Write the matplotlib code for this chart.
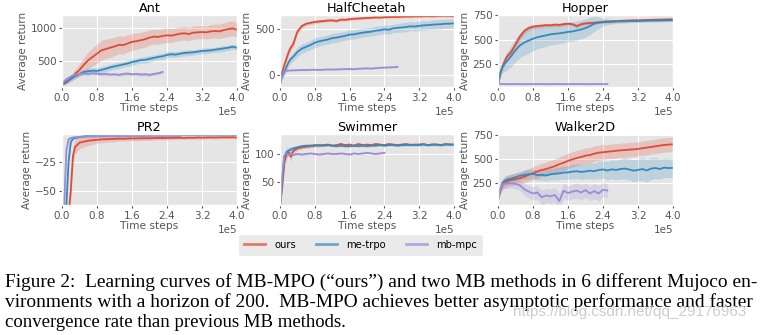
import matplotlib
matplotlib.use("Agg")
import matplotlib.pyplot as plt
import matplotlib.transforms as mtransforms
from matplotlib.lines import Line2D
import numpy as np

plt.style.use("ggplot")

# Training progress, in units of 1e4 time steps
STEPS = [0, 0.5, 1, 1.5, 2, 2.5, 3, 4, 5, 6, 7, 8, 9, 10, 11, 12, 13, 14, 15, 16,
         17, 18, 19, 20, 21, 22, 23, 24, 25, 26, 27, 28, 29, 30, 31, 32, 33, 34,
         35, 36, 37, 38, 39, 40]

METHODS = ["ours", "me-trpo", "mb-mpc"]
COLORS = ["#E24A33", "#348ABD", "#988ED5"]
ENVS = ["Ant", "HalfCheetah", "Hopper", "PR2", "Swimmer", "Walker2D"]
XTICKS = [0, 0.8, 1.6, 2.4, 3.2, 4.0]

# ---- Ant ----
ant_ours = [140, 150, 170, 200, 230, 265, 300, 360, 440, 510, 560, 610, 660, 680, 700, 720,
            745, 740, 765, 790, 800, 815, 830, 855, 870, 865, 880, 890, 885, 900, 915, 920,
            910, 930, 935, 940, 935, 950, 955, 950, 970, 985, 995, 975]
ant_ours_sd = [20, 25, 30, 40, 50, 60, 70, 90, 110, 130, 140, 150, 150, 150, 145, 140, 140,
               135, 130, 130, 125, 120, 120, 115, 115, 110, 110, 110, 105, 105, 105, 105,
               100, 100, 100, 100, 100, 105, 105, 110, 110, 115, 115, 110]
ant_trpo = [150, 165, 185, 205, 225, 245, 265, 300, 330, 340, 350, 345, 360, 380, 400, 415,
            430, 445, 460, 480, 495, 510, 515, 530, 545, 560, 570, 590, 600, 595, 610, 620,
            625, 630, 640, 650, 655, 660, 670, 680, 690, 700, 715, 700]
ant_trpo_sd = [15, 20, 25, 30, 30, 35, 35, 40, 40, 45, 45, 50, 50, 45, 45, 50, 50, 45, 45,
               50, 45, 45, 50, 50, 45, 45, 50, 50, 45, 45, 40, 45, 45, 40, 40, 45, 45, 40,
               40, 45, 45, 40, 40, 40]
ant_mpc = [160, 190, 220, 240, 260, 275, 285, 300, 305, 300, 310, 305, 295, 300, 290, 295,
           285, 300, 305, 295, 300, 290, 295, 285, 300, 310, 330]
ant_mpc_sd = [10, 12, 15, 18, 20, 20, 22, 25, 25, 28, 25, 22, 25, 28, 25, 22, 25, 28, 25,
              25, 22, 25, 28, 25, 22, 25, 25]

# ---- HalfCheetah ----
hc_ours = [-110, 30, 110, 180, 250, 300, 330, 470, 530, 555, 565, 575, 580, 585, 590, 592,
           585, 600, 598, 605, 610, 612, 615, 618, 620, 624, 622, 626, 628, 630, 628, 632,
           634, 633, 636, 635, 637, 638, 636, 639, 640, 641, 640, 638]
hc_ours_sd = [20, 30, 35, 40, 40, 35, 35, 30, 25, 20, 20, 18, 18, 15, 15, 15, 15, 15, 15,
              15, 12, 14, 12, 13, 12, 14, 12, 13, 12, 14, 12, 13, 12, 14, 12, 13, 12, 14,
              12, 13, 12, 14, 12, 13]
hc_trpo = [-90, -20, 30, 90, 140, 175, 195, 250, 285, 305, 325, 350, 365, 375, 385, 400,
           405, 415, 425, 438, 440, 450, 458, 465, 470, 480, 485, 495, 490, 505, 510, 515,
           520, 528, 525, 532, 538, 540, 545, 548, 550, 555, 556, 560]
hc_trpo_sd = [10, 25, 35, 40, 45, 45, 45, 50, 52, 48, 50, 55, 50, 48, 52, 50, 55, 50, 48,
              52, 50, 50, 48, 45, 48, 50, 45, 48, 50, 45, 48, 50, 52, 48, 50, 52, 50, 48,
              50, 52, 50, 48, 50, 50]
hc_mpc = [-70, -10, 35, 45, 48, 50, 50, 52, 55, 54, 56, 57, 55, 58, 60, 59, 61, 62, 64, 65,
          63, 68, 70, 72, 70, 74, 78, 80, 82, 85, 88]
hc_mpc_sd = [15, 15, 10, 8, 8, 8, 8, 8, 9, 8, 7, 8, 9, 8, 7, 8, 9, 8, 7, 8, 9, 8, 7, 8, 9,
             8, 7, 8, 9, 8, 8]

# ---- Hopper ----
hop_ours = [20, 150, 220, 270, 320, 345, 370, 450, 530, 590, 620, 635, 640, 645, 650, 648,
            655, 652, 660, 665, 660, 640, 660, 668, 672, 675, 680, 685, 688, 690, 692, 695,
            697, 698, 700, 700, 702, 703, 705, 706, 707, 708, 710, 710]
hop_ours_sd = [5, 30, 40, 40, 40, 40, 40, 40, 35, 30, 25, 20, 20, 20, 18, 18, 18, 18, 18,
               18, 18, 18, 18, 15, 16, 15, 14, 15, 16, 15, 14, 15, 16, 15, 14, 15, 16, 15,
               14, 15, 16, 15, 14, 15]
hop_trpo = [20, 150, 215, 250, 275, 300, 330, 390, 440, 470, 490, 510, 525, 535, 545, 555,
            560, 565, 572, 580, 585, 595, 605, 620, 640, 665, 675, 680, 682, 685, 688, 690,
            690, 692, 694, 693, 695, 696, 697, 697, 698, 699, 700, 700]
hop_trpo_sd = [5, 40, 60, 80, 90, 100, 110, 120, 130, 130, 130, 125, 120, 115, 115, 110,
               110, 105, 105, 100, 100, 100, 95, 95, 90, 80, 60, 40, 30, 25, 20, 20, 18,
               18, 16, 16, 15, 15, 15, 14, 14, 14, 13, 13]
hop_mpc = [38, 40, 41, 40, 39, 40, 41, 40, 40, 39, 41, 40, 40, 41, 39, 40, 40, 41, 40, 39,
           40, 41, 40, 40, 39, 40, 41, 40, 40]
hop_mpc_sd = [2, 3, 3, 2, 3, 3, 2, 3, 3, 2, 3, 3, 2, 3, 3, 2, 3, 3, 2, 3, 3, 2, 3, 3, 2, 3,
              3, 2, 3]

# ---- PR2 ----
pr2_ours = [-85, -82, -78, -70, -50, -20, -12, -8.5, -7.5, -6.8, -6.3, -6.0, -5.6, -5.5,
            -5.3, -5.2, -5.0, -5.1, -4.9, -4.8, -4.8, -4.7, -4.6, -4.7, -4.5, -4.4, -4.5,
            -4.4, -4.3, -4.3, -4.2, -4.3, -4.1, -4.2, -4.0, -4.1, -4.0, -3.9, -4.0, -3.9,
            -3.8, -3.9, -3.8, -4.0]
pr2_ours_sd = [2, 2, 3, 5, 8, 8, 6, 5, 4.5, 4, 3.5, 3, 3, 2.5, 2.5, 2.5, 2, 2, 2, 2, 2, 2,
               1.8, 1.8, 1.8, 1.6, 1.6, 1.6, 1.5, 1.5, 1.5, 1.5, 1.4, 1.4, 1.4, 1.4, 1.3,
               1.3, 1.3, 1.3, 1.2, 1.2, 1.2, 1.2]
pr2_trpo = [-80, -75, -62, -25, -8, -5, -4.5, -3.5, -3.0, -2.5, -2.2, -2.1, -2.0, -1.9,
            -2.0, -1.9, -1.8, -1.9, -1.8, -1.8, -1.9, -1.8, -1.7, -1.8, -1.8, -1.7, -1.8,
            -1.7, -1.7, -1.8, -1.7, -1.7, -1.6, -1.7, -1.7, -1.6, -1.7, -1.6, -1.6, -1.7,
            -1.6, -1.6, -1.7, -1.6]
pr2_trpo_sd = [1, 2, 4, 4, 2, 1.5, 1.2, 1, 1, 1, 0.9, 0.9, 0.8, 0.8, 0.8, 0.8, 0.8, 0.8,
               0.8, 0.8, 0.8, 0.8, 0.8, 0.8, 0.8, 0.8, 0.8, 0.8, 0.8, 0.8, 0.8, 0.8, 0.8,
               0.8, 0.8, 0.8, 0.8, 0.8, 0.8, 0.8, 0.8, 0.8, 0.8, 0.8]
pr2_mpc = [-75, -62, -15, -5.5, -4.5, -4.0, -3.8, -3.5, -3.3, -3.2, -3.0, -3.1, -2.9, -3.0,
           -2.8, -2.9, -3.0, -2.8, -2.9, -2.7, -2.8, -2.9, -2.7, -2.8, -2.6, -2.7, -2.8,
           -2.6, -2.7, -2.8, -2.7]
pr2_mpc_sd = [1, 3, 4, 1.5, 1, 1, 1, 1, 1, 1, 1, 1, 1, 1, 1, 1, 1, 1, 1, 1, 1, 1, 1, 1, 1,
              1, 1, 1, 1, 1, 1]

# ---- Swimmer ----
sw_ours = [5, 40, 85, 100, 103, 95, 105, 110, 112, 113, 114, 115, 115, 116, 117, 115, 116,
           118, 116, 117, 115, 118, 116, 117, 116, 118, 117, 116, 118, 117, 116, 117, 118,
           116, 117, 117, 118, 116, 117, 117, 116, 118, 117, 117]
sw_ours_sd = [2, 8, 10, 8, 6, 8, 5, 4, 3, 3, 3, 2.5, 2.5, 2, 2, 2, 2, 2, 2, 2, 2, 2, 2, 2,
              2, 2, 2, 2, 2, 2, 2, 2, 2, 2, 2, 2, 2, 2, 2, 2, 2, 2, 2, 2]
sw_trpo = [5, 50, 95, 103, 106, 108, 110, 112, 114, 115, 115, 116, 116, 115, 116, 115, 114,
           115, 114, 114, 115, 114, 115, 114, 115, 115, 116, 115, 116, 116, 115, 116, 116,
           117, 116, 116, 117, 116, 117, 117, 116, 117, 117, 117]
sw_trpo_sd = [2, 10, 10, 8, 6, 5, 4, 3, 3, 2.5, 2.5, 2, 2, 2, 2, 2, 2, 2, 2, 2, 2, 2, 2, 2,
              2, 2, 2, 2, 2, 2, 2, 2, 2, 2, 2, 2, 2, 2, 2, 2, 2, 2, 2, 2]
sw_mpc = [5, 60, 98, 101, 99, 100, 98, 100, 99, 100, 101, 100, 99, 100, 101, 100, 100, 101,
          100, 99, 101, 100, 101, 102, 101, 100, 101, 102]
sw_mpc_sd = [1, 4, 3, 2, 1.5, 1.5, 1.5, 1.5, 1.5, 1.5, 1.5, 1.5, 1.5, 1.5, 1.5, 1.5, 1.5,
             1.5, 1.5, 1.5, 1.5, 1.5, 1.5, 1.5, 1.5, 1.5, 1.5, 1.5]

# ---- Walker2D ----
wk_ours = [70, 170, 230, 250, 265, 275, 280, 290, 300, 315, 335, 350, 370, 385, 395, 410,
           425, 445, 460, 480, 495, 510, 520, 535, 540, 555, 565, 570, 575, 580, 585, 590,
           592, 597, 600, 605, 612, 618, 625, 632, 640, 645, 650, 652]
wk_ours_sd = [10, 40, 50, 55, 60, 60, 60, 60, 60, 65, 65, 70, 70, 70, 75, 75, 75, 75, 80,
              80, 80, 80, 80, 80, 80, 80, 80, 80, 75, 75, 75, 75, 75, 75, 75, 75, 75, 75,
              75, 75, 75, 75, 75, 75]
wk_trpo = [70, 180, 250, 270, 285, 290, 295, 310, 325, 335, 340, 345, 330, 335, 328, 340,
           345, 350, 358, 360, 368, 372, 365, 370, 378, 372, 385, 390, 380, 392, 385, 395,
           400, 390, 378, 385, 395, 380, 400, 405, 395, 410, 405, 407]
wk_trpo_sd = [10, 40, 45, 45, 45, 45, 45, 45, 45, 50, 50, 50, 55, 55, 60, 60, 65, 65, 70,
              70, 75, 75, 80, 80, 85, 85, 90, 90, 95, 100, 100, 105, 110, 110, 115, 115,
              120, 120, 115, 110, 105, 100, 100, 100]
wk_mpc = [70, 180, 235, 245, 240, 250, 245, 240, 225, 185, 160, 140, 150, 100, 120, 110,
          125, 60, 170, 145, 160, 170, 150, 175, 140, 165, 140, 180, 170]
wk_mpc_sd = [10, 40, 50, 50, 50, 50, 50, 50, 55, 60, 65, 70, 70, 75, 75, 75, 80, 80, 80,
             75, 75, 80, 80, 75, 75, 80, 80, 75, 70]

CURVES = {
    "Ant": [(ant_ours, ant_ours_sd), (ant_trpo, ant_trpo_sd), (ant_mpc, ant_mpc_sd)],
    "HalfCheetah": [(hc_ours, hc_ours_sd), (hc_trpo, hc_trpo_sd), (hc_mpc, hc_mpc_sd)],
    "Hopper": [(hop_ours, hop_ours_sd), (hop_trpo, hop_trpo_sd), (hop_mpc, hop_mpc_sd)],
    "PR2": [(pr2_ours, pr2_ours_sd), (pr2_trpo, pr2_trpo_sd), (pr2_mpc, pr2_mpc_sd)],
    "Swimmer": [(sw_ours, sw_ours_sd), (sw_trpo, sw_trpo_sd), (sw_mpc, sw_mpc_sd)],
    "Walker2D": [(wk_ours, wk_ours_sd), (wk_trpo, wk_trpo_sd), (wk_mpc, wk_mpc_sd)],
}
YLIMS = {"Ant": (100, 1200), "HalfCheetah": (-130, 650), "Hopper": (10, 755),
         "PR2": (-62, -1), "Swimmer": (8, 136), "Walker2D": (20, 760)}
YTICKS = {"Ant": [500, 1000], "HalfCheetah": [0, 500], "Hopper": [250, 500, 750],
          "PR2": [-50, -25], "Swimmer": [50, 100], "Walker2D": [250, 500, 750]}

CAPTION = [
    "Figure 2:  Learning curves of MB-MPO (\u201cours\u201d) and two MB methods in 6 different Mujoco en-",
    "vironments with a horizon of 200.  MB-MPO achieves better asymptotic performance and faster",
    "convergence rate than previous MB methods.",
]

W, H, DPI = 760, 335, 100
fig = plt.figure(figsize=(W / DPI, H / DPI), dpi=DPI, facecolor="white")

# panel boxes in pixels: left, top, right, bottom
cols = [(62, 237), (280, 454), (498, 673)]
rows = [(15, 87), (134, 205)]

steps = np.array(STEPS) * 1e4
for i, env in enumerate(ENVS):
    (x0, x1), (y0, y1) = cols[i % 3], rows[i // 3]
    ax = fig.add_axes([x0 / W, 1 - y1 / H, (x1 - x0) / W, (y1 - y0) / H])
    for (mean, sd), color in zip(CURVES[env], COLORS):
        n = len(mean)
        m = np.array(mean, dtype=float)
        s = np.array(sd[:n], dtype=float)
        ax.fill_between(steps[:n], m - s, m + s, color=color, alpha=0.22, lw=0)
        ax.plot(steps[:n], m, color=color, lw=1.3)
    ax.set_xlim(0, 4e5)
    ax.set_ylim(*YLIMS[env])
    ax.set_xticks([t * 1e5 for t in XTICKS])
    ax.set_yticks(YTICKS[env])
    ax.ticklabel_format(axis="x", style="sci", scilimits=(0, 0))
    ax.xaxis.get_offset_text().set_fontsize(7.5)
    ax.xaxis.get_offset_text().set_color("#555555")
    ax.tick_params(axis="both", labelsize=7.5, colors="#555555", length=2.5, pad=1.5)
    ax.set_title(env, fontsize=9.2, color="black", pad=2.5)
    ax.set_xlabel("Time steps", fontsize=7.7, color="#555555", labelpad=0.5)
    ax.set_ylabel("Average return", fontsize=7.5, color="#555555", labelpad=2.0)
    ax.grid(True, color="white", lw=0.8)

handles = [Line2D([], [], color=c, lw=2.0, alpha=0.7) for c in COLORS]
leg = fig.legend(handles, METHODS, loc="center", bbox_to_anchor=(360.5 / W, 1 - 244.5 / H),
                 ncol=3, fontsize=7.2, frameon=True, borderpad=0.5, handlelength=2.1,
                 columnspacing=2.0, handletextpad=0.9)
leg.get_frame().set_facecolor("#E5E5E5")
leg.get_frame().set_edgecolor("#E5E5E5")
leg.get_frame().set_alpha(0.8)

# caption: full lines are sized to span the text block, the last line is set ragged
ident = mtransforms.IdentityTransform()
renderer = fig.canvas.get_renderer()
base_size = 13.5
left_px, right_px = 5, 755
baselines = [287, 307, 327]
for k, (line, base) in enumerate(zip(CAPTION, baselines)):
    t = fig.text(left_px, H - base, line, transform=ident, family="Liberation Serif",
                 fontsize=base_size, color="black", va="baseline")
    if k < len(CAPTION) - 1:
        natural = t.get_window_extent(renderer).width
        t.set_fontsize(base_size * (right_px - left_px) / natural)

fig.text(513, H - 316, "https://blog.csdn.net/qq_29176963", transform=ident,
         family="Liberation Sans", fontsize=11, color="#cdcdcd", va="baseline")

fig.savefig("out.png", dpi=DPI, facecolor="white")
